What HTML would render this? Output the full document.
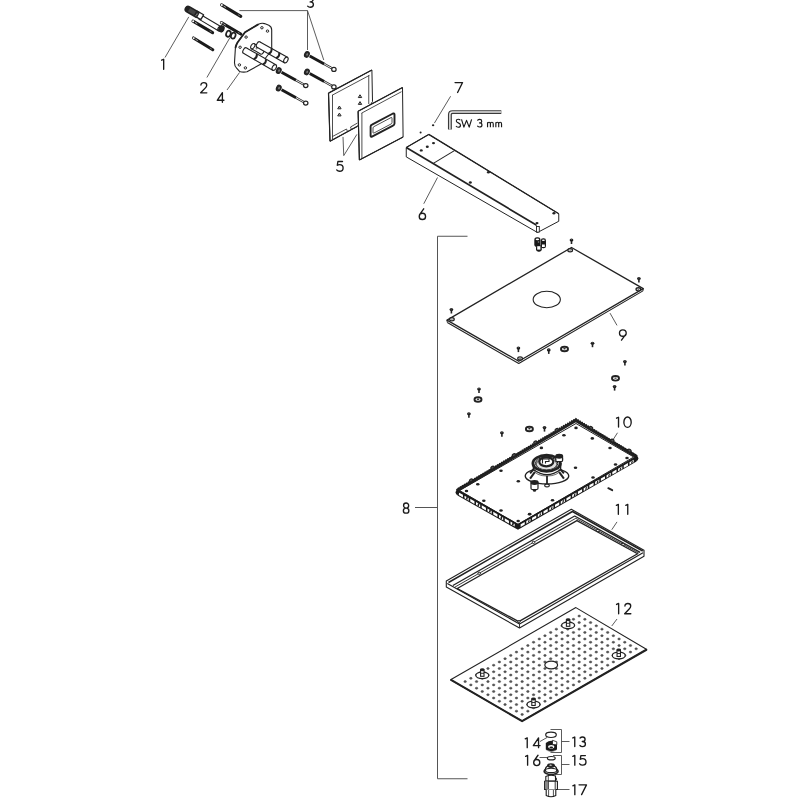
<!DOCTYPE html>
<html><head><meta charset="utf-8"><style>
html,body{margin:0;padding:0;background:#fff;width:800px;height:800px;overflow:hidden}
svg{display:block}
text{font-family:"Liberation Sans",sans-serif}
</style></head><body>
<svg width="800" height="800" viewBox="0 0 800 800">
<rect width="800" height="800" fill="#fff"/>
<path d="M0.65,1.6 L2.65,0.65 V10.55" transform="translate(161.00 58.60) scale(1.0089)" fill="none" stroke="#1a1a1a" stroke-width="1.338" stroke-linecap="round" stroke-linejoin="round"/>
<path d="M0.9,3.1 C0.9,1.5 2.2,0.65 3.7,0.65 C5.3,0.65 6.5,1.7 6.5,3.2 C6.5,4.3 5.9,5.1 5,6 L0.65,10.55 H6.6" transform="translate(200.00 81.90) scale(1.0357)" fill="none" stroke="#1a1a1a" stroke-width="1.303" stroke-linecap="round" stroke-linejoin="round"/>
<path d="M0.8,1.7 C1.5,0.95 2.4,0.65 3.4,0.65 C4.9,0.65 6.0,1.6 6.0,2.95 C6.0,4.3 4.9,5.25 3.1,5.25 C5.1,5.25 6.35,6.35 6.35,7.9 C6.35,9.55 5.0,10.55 3.3,10.55 C2.2,10.55 1.3,10.15 0.65,9.45" transform="translate(307.00 -3.40) scale(1.0089)" fill="none" stroke="#1a1a1a" stroke-width="1.338" stroke-linecap="round" stroke-linejoin="round"/>
<path d="M5.9,10.55 V0.65 L0.65,8.45 H7.45" transform="translate(216.60 92.00) scale(0.9821)" fill="none" stroke="#1a1a1a" stroke-width="1.375" stroke-linecap="round" stroke-linejoin="round"/>
<path d="M6.5,0.8 H1.9 L1.3,4.55 C2.0,4.1 2.8,3.9 3.6,3.9 C5.6,3.9 7.1,5.3 7.1,7.25 C7.1,9.25 5.6,10.55 3.6,10.55 C2.4,10.55 1.3,10.0 0.65,9.2" transform="translate(336.00 160.70) scale(1.0000)" fill="none" stroke="#1a1a1a" stroke-width="1.350" stroke-linecap="round" stroke-linejoin="round"/>
<path d="M5.4,0.65 L1.45,6.2 M4.15,4.95 A3.05,3.05 0 1 1 4.15,11.05 A3.05,3.05 0 1 1 4.15,4.95 Z" transform="translate(418.10 208.10) scale(1.0357)" fill="none" stroke="#1a1a1a" stroke-width="1.303" stroke-linecap="round" stroke-linejoin="round"/>
<path d="M0.65,0.65 H8.15 L3.2,10.55" transform="translate(454.40 81.90) scale(1.0000)" fill="none" stroke="#1a1a1a" stroke-width="1.350" stroke-linecap="round" stroke-linejoin="round"/>
<line x1="188.75" y1="16.9" x2="165" y2="57.5" stroke="#4a4a4a" stroke-width="0.9" stroke-linecap="butt"/>
<line x1="230" y1="37.5" x2="206.9" y2="77.5" stroke="#4a4a4a" stroke-width="0.9" stroke-linecap="butt"/>
<polyline points="239.4,10.6 307.5,10.6 307.5,50" fill="none" stroke="#4a4a4a" stroke-width="0.9" stroke-linejoin="round" />
<line x1="307.5" y1="10.6" x2="323.75" y2="60" stroke="#4a4a4a" stroke-width="0.9" stroke-linecap="butt"/>
<line x1="239.5" y1="72.5" x2="227" y2="90" stroke="#4a4a4a" stroke-width="0.9" stroke-linecap="butt"/>
<polyline points="343,136.9 343.75,155.6 356.9,134.4" fill="none" stroke="#4a4a4a" stroke-width="0.9" stroke-linejoin="round" />
<line x1="423.75" y1="203.75" x2="437.5" y2="177.5" stroke="#4a4a4a" stroke-width="0.9" stroke-linecap="butt"/>
<line x1="450.6" y1="96.25" x2="434.4" y2="123.1" stroke="#4a4a4a" stroke-width="0.9" stroke-linecap="butt"/>
<path d="M460.3,120.3 C459.8,119.5 459.0,119.2 458.2,119.2 C457.0,119.2 456.3,119.9 456.3,120.9 C456.3,123.2 460.5,122.6 460.5,125.2 C460.5,126.5 459.5,127.2 458.2,127.2 C457.2,127.2 456.5,126.8 456.0,126.0" fill="none" stroke="#1a1a1a" stroke-width="1.15" stroke-linejoin="round"/>
<path d="M461.5,119.3 L463.9,127.1 L466.55,120.4 L469.2,127.1 L471.6,119.3" fill="none" stroke="#1a1a1a" stroke-width="1.15" stroke-linejoin="round"/>
<path d="M0.8,1.7 C1.5,0.95 2.4,0.65 3.4,0.65 C4.9,0.65 6.0,1.6 6.0,2.95 C6.0,4.3 4.9,5.25 3.1,5.25 C5.1,5.25 6.35,6.35 6.35,7.9 C6.35,9.55 5.0,10.55 3.3,10.55 C2.2,10.55 1.3,10.15 0.65,9.45" transform="translate(477.10 118.90) scale(0.7679)" fill="none" stroke="#1a1a1a" stroke-width="1.498" stroke-linecap="round" stroke-linejoin="round"/>
<path d="M487.55,127.3 V122.2 M487.55,123.9 C487.55,122.8 488.3,122.2 489.05,122.2 C489.9,122.2 490.4,122.8 490.4,123.9 V127.3 M490.4,123.9 C490.4,122.8 491.15,122.2 491.9,122.2 C492.75,122.2 493.25,122.8 493.25,123.9 V127.3" fill="none" stroke="#1a1a1a" stroke-width="1.15" stroke-linejoin="round"/>
<path d="M495.85,127.3 V122.2 M495.85,123.9 C495.85,122.8 496.6,122.2 497.35,122.2 C498.2,122.2 498.7,122.8 498.7,123.9 V127.3 M498.7,123.9 C498.7,122.8 499.45,122.2 500.2,122.2 C501.05,122.2 501.55,122.8 501.55,123.9 V127.3" fill="none" stroke="#1a1a1a" stroke-width="1.15" stroke-linejoin="round"/>
<polygon points="328.5,93.1 371.9,70 372.5,101.5 357.5,126.25 330,141.25" fill="#fff" stroke="#222" stroke-width="1" stroke-linejoin="round" />
<line x1="328.5" y1="93.1" x2="371.9" y2="70" stroke="#222" stroke-width="1.2" stroke-linecap="butt"/>
<line x1="328.5" y1="93.1" x2="330" y2="141.25" stroke="#222" stroke-width="1.2" stroke-linecap="butt"/>
<line x1="332.5" y1="95" x2="332.5" y2="139" stroke="#222" stroke-width="0.8" stroke-linecap="butt"/>
<line x1="332" y1="95.3" x2="369.5" y2="75.3" stroke="#222" stroke-width="0.8" stroke-linecap="butt"/>
<line x1="368.75" y1="75.3" x2="368.75" y2="104" stroke="#222" stroke-width="0.8" stroke-linecap="butt"/>
<line x1="330" y1="141.25" x2="357.5" y2="126.25" stroke="#222" stroke-width="1.2" stroke-linecap="butt"/>
<line x1="332.5" y1="136.5" x2="346.5" y2="129" stroke="#222" stroke-width="0.8" stroke-linecap="butt"/>
<line x1="346.5" y1="129" x2="347.5" y2="131.5" stroke="#222" stroke-width="0.8" stroke-linecap="butt"/>
<line x1="350.5" y1="127" x2="357.5" y2="123" stroke="#222" stroke-width="0.8" stroke-linecap="butt"/>
<line x1="350.5" y1="127" x2="351.5" y2="129.5" stroke="#222" stroke-width="0.8" stroke-linecap="butt"/>
<path d="M337.7,108.8 L339.4,106 L341.1,108.8 Z" fill="none" stroke="#222" stroke-width="1.0" stroke-linejoin="round"/>
<ellipse cx="339.4" cy="107.9" rx="0.6" ry="0.5" fill="#444"/>
<path d="M337.7,115.9 L339.4,113.1 L341.1,115.9 Z" fill="none" stroke="#222" stroke-width="1.0" stroke-linejoin="round"/>
<ellipse cx="339.4" cy="115" rx="0.6" ry="0.5" fill="#444"/>
<path d="M358.3,97.55 L360,94.75 L361.7,97.55 Z" fill="none" stroke="#222" stroke-width="1.0" stroke-linejoin="round"/>
<ellipse cx="360" cy="96.65" rx="0.6" ry="0.5" fill="#444"/>
<path d="M358.3,104.4 L360,101.6 L361.7,104.4 Z" fill="none" stroke="#222" stroke-width="1.0" stroke-linejoin="round"/>
<ellipse cx="360" cy="103.5" rx="0.6" ry="0.5" fill="#444"/>
<polygon points="358.1,111.25 402.5,87.5 403.1,137 359.4,160" fill="#fff" stroke="#222" stroke-width="1.0" stroke-linejoin="round" />
<line x1="358.1" y1="111.25" x2="402.5" y2="87.5" stroke="#222" stroke-width="1.3" stroke-linecap="butt"/>
<line x1="358.1" y1="111.25" x2="359.4" y2="160" stroke="#222" stroke-width="1.2" stroke-linecap="butt"/>
<line x1="361.9" y1="113" x2="361.9" y2="158.5" stroke="#222" stroke-width="0.8" stroke-linecap="butt"/>
<line x1="361.5" y1="113.2" x2="401.5" y2="91.7" stroke="#222" stroke-width="0.8" stroke-linecap="butt"/>
<line x1="359.4" y1="160" x2="403.1" y2="137" stroke="#222" stroke-width="1.2" stroke-linecap="butt"/>
<path d="M372,124.6 L393,113.5 Q394.5,113 394.5,114.5 L394.5,123.5 Q394.5,125 393,125.6 L372,136.6 Q370.6,137.2 370.6,135.8 L370.6,126.5 Q370.6,125.2 372,124.6 Z" fill="none" stroke="#222" stroke-width="1.9" stroke-linejoin="round"/>
<path d="M374,126.6 L391,117.6 Q392,117.2 392,118.2 L392,122.6 Q392,123.6 391,124 L374,133 Q373,133.4 373,132.4 L373,128 Q373,127 374,126.6 Z" fill="#fff" stroke="#222" stroke-width="0.8" stroke-linejoin="round"/>
<ellipse cx="306.9" cy="54.4" rx="2.2" ry="2.9" fill="#2a2a2a" stroke="#222" stroke-width="1.2" transform="rotate(25 306.9 54.4)"/>
<ellipse cx="307.2" cy="54.4" rx="0.9" ry="1.3" fill="#777" transform="rotate(25 307.2 54.4)"/>
<line x1="309.7" y1="56" x2="324.22" y2="64.04" stroke="#1a1a1a" stroke-width="2.9" stroke-linecap="butt"/>
<line x1="324.22" y1="64.04" x2="332.3" y2="68.5" stroke="#222" stroke-width="2.3" stroke-linecap="butt"/>
<line x1="324.22" y1="64.04" x2="332.3" y2="68.5" stroke="#fff" stroke-width="0.9" stroke-linecap="butt"/>
<ellipse cx="333.9" cy="69.4" rx="2.2" ry="2" fill="#fff" stroke="#222" stroke-width="1.2"/>
<ellipse cx="306.9" cy="71.9" rx="2.2" ry="2.9" fill="#2a2a2a" stroke="#222" stroke-width="1.2" transform="rotate(25 306.9 71.9)"/>
<ellipse cx="307.2" cy="71.9" rx="0.9" ry="1.3" fill="#777" transform="rotate(25 307.2 71.9)"/>
<line x1="309.7" y1="73.5" x2="324.22" y2="81.54" stroke="#1a1a1a" stroke-width="2.9" stroke-linecap="butt"/>
<line x1="324.22" y1="81.54" x2="332.3" y2="86" stroke="#222" stroke-width="2.3" stroke-linecap="butt"/>
<line x1="324.22" y1="81.54" x2="332.3" y2="86" stroke="#fff" stroke-width="0.9" stroke-linecap="butt"/>
<ellipse cx="333.9" cy="86.9" rx="2.2" ry="2" fill="#fff" stroke="#222" stroke-width="1.2"/>
<ellipse cx="278.75" cy="70.6" rx="2.2" ry="2.9" fill="#2a2a2a" stroke="#222" stroke-width="1.2" transform="rotate(25 278.75 70.6)"/>
<ellipse cx="279.05" cy="70.6" rx="0.9" ry="1.3" fill="#777" transform="rotate(25 279.05 70.6)"/>
<line x1="281.55" y1="72.2" x2="296.07" y2="80.24" stroke="#1a1a1a" stroke-width="2.9" stroke-linecap="butt"/>
<line x1="296.07" y1="80.24" x2="304.15" y2="84.7" stroke="#222" stroke-width="2.3" stroke-linecap="butt"/>
<line x1="296.07" y1="80.24" x2="304.15" y2="84.7" stroke="#fff" stroke-width="0.9" stroke-linecap="butt"/>
<ellipse cx="305.75" cy="85.6" rx="2.2" ry="2" fill="#fff" stroke="#222" stroke-width="1.2"/>
<ellipse cx="278.75" cy="88.1" rx="2.2" ry="2.9" fill="#2a2a2a" stroke="#222" stroke-width="1.2" transform="rotate(25 278.75 88.1)"/>
<ellipse cx="279.05" cy="88.1" rx="0.9" ry="1.3" fill="#777" transform="rotate(25 279.05 88.1)"/>
<line x1="281.55" y1="89.7" x2="296.07" y2="97.74" stroke="#1a1a1a" stroke-width="2.9" stroke-linecap="butt"/>
<line x1="296.07" y1="97.74" x2="304.15" y2="102.2" stroke="#222" stroke-width="2.3" stroke-linecap="butt"/>
<line x1="296.07" y1="97.74" x2="304.15" y2="102.2" stroke="#fff" stroke-width="0.9" stroke-linecap="butt"/>
<ellipse cx="305.75" cy="103.1" rx="2.2" ry="2" fill="#fff" stroke="#222" stroke-width="1.2"/>
<path d="M245,32.2 L258.5,24.2 Q261.5,22.8 264.5,23.6 L268.8,25.2 Q271.7,26.6 271.7,30 L271.7,50 L261,64 L247,71.8 Q243,72.6 239.5,71.4 L236.6,68.2 Q234.4,66 234.5,62.5 L235.4,48 Q236,45 237.5,42.5 Z" fill="#fff" stroke="#222" stroke-width="1.1" stroke-linejoin="round"/>
<path d="M258.5,24.2 L245,32.2 L237.5,42.5 Q236,45 235.4,48" fill="none" stroke="#222" stroke-width="1.8" stroke-linejoin="round"/>
<ellipse cx="261.9" cy="27.75" rx="1.25" ry="1.15" fill="#fff" stroke="#222" stroke-width="1.0"/>
<ellipse cx="267.5" cy="31.1" rx="1.25" ry="1.15" fill="#fff" stroke="#222" stroke-width="1.0"/>
<ellipse cx="246.1" cy="37.1" rx="1.25" ry="1.15" fill="#fff" stroke="#222" stroke-width="1.0"/>
<ellipse cx="240.1" cy="47.25" rx="1.25" ry="1.15" fill="#fff" stroke="#222" stroke-width="1.0"/>
<ellipse cx="239.4" cy="64.9" rx="1.25" ry="1.15" fill="#fff" stroke="#222" stroke-width="1.0"/>
<ellipse cx="245.4" cy="67.9" rx="1.25" ry="1.15" fill="#fff" stroke="#222" stroke-width="1.0"/>
<ellipse cx="262" cy="51.5" rx="1.74" ry="2.9" fill="#fff" stroke="#222" stroke-width="1.1" transform="rotate(-150.1 262 51.5)"/>
<polyline points="263.45,48.99 254.25,43.69 251.35,48.71 260.55,54.01" fill="#fff" stroke="#222" stroke-width="1.1" stroke-linejoin="round" />
<ellipse cx="252.8" cy="46.2" rx="1.74" ry="2.9" fill="#fff" stroke="#222" stroke-width="1.1" transform="rotate(-150.1 252.8 46.2)"/>
<ellipse cx="256.8" cy="48" rx="1" ry="1.6" fill="#888" transform="rotate(30 256.8 48)"/>
<ellipse cx="258.5" cy="44.6" rx="1.86" ry="3.1" fill="#fff" stroke="#222" stroke-width="1.1" transform="rotate(29.3 258.5 44.6)"/>
<polyline points="256.98,47.3 284.38,62.7 287.42,57.3 260.02,41.9" fill="#fff" stroke="#222" stroke-width="1.1" stroke-linejoin="round" />
<ellipse cx="285.9" cy="60" rx="1.86" ry="3.1" fill="#fff" stroke="#222" stroke-width="1.1" transform="rotate(29.3 285.9 60)"/>
<path d="M268.49,53.77 Q272.17,52.28 271.53,48.37" fill="none" stroke="#222" stroke-width="2.0" stroke-linejoin="round"/>
<path d="M276.16,58.08 Q279.84,56.6 279.2,52.68" fill="none" stroke="#222" stroke-width="2.0" stroke-linejoin="round"/>
<ellipse cx="245" cy="50.6" rx="1.86" ry="3.1" fill="#fff" stroke="#222" stroke-width="1.1" transform="rotate(30.0 245 50.6)"/>
<polyline points="243.45,53.28 272.7,70.18 275.8,64.82 246.55,47.92" fill="#fff" stroke="#222" stroke-width="1.1" stroke-linejoin="round" />
<ellipse cx="274.25" cy="67.5" rx="1.86" ry="3.1" fill="#fff" stroke="#222" stroke-width="1.1" transform="rotate(30.0 274.25 67.5)"/>
<path d="M253.69,59.2 Q257.38,57.76 256.79,53.83" fill="none" stroke="#222" stroke-width="2.0" stroke-linejoin="round"/>
<path d="M262.75,64.44 Q266.45,62.99 265.86,59.07" fill="none" stroke="#222" stroke-width="2.0" stroke-linejoin="round"/>
<ellipse cx="200.5" cy="17.3" rx="1.44" ry="2.4" fill="#fff" stroke="#222" stroke-width="1.1" transform="rotate(30.7 200.5 17.3)"/>
<polyline points="199.27,19.36 218.27,30.66 220.73,26.54 201.73,15.24" fill="#fff" stroke="#222" stroke-width="1.1" stroke-linejoin="round" />
<ellipse cx="219.5" cy="28.6" rx="1.44" ry="2.4" fill="#fff" stroke="#222" stroke-width="1.1" transform="rotate(30.7 219.5 28.6)"/>
<line x1="188.2" y1="9.4" x2="196.8" y2="14.4" stroke="#222" stroke-width="7.4" stroke-linecap="round"/>
<line x1="189" y1="9.8" x2="195" y2="13.3" stroke="#444" stroke-width="4.2" stroke-linecap="butt"/>
<polygon points="197.5,11.2 203.6,14.8 200.8,19.6 194.7,16" fill="#fff" stroke="#222" stroke-width="1.3" stroke-linejoin="round" />
<line x1="199.3" y1="12.3" x2="196.6" y2="17.1" stroke="#222" stroke-width="1.3" stroke-linecap="butt"/>
<line x1="196.5" y1="14.5" x2="197.2" y2="14.9" stroke="#333" stroke-width="6.2" stroke-linecap="butt"/>
<ellipse cx="221.5" cy="28.9" rx="3" ry="3.5" fill="#1a1a1a" transform="rotate(30 221.5 28.9)"/>
<line x1="219.5" y1="27.7" x2="223" y2="29.8" stroke="#222" stroke-width="6.5" stroke-linecap="butt"/>
<ellipse cx="228.4" cy="33.75" rx="2.2" ry="3.1" fill="none" stroke="#222" stroke-width="1.7" transform="rotate(20 228.4 33.75)"/>
<ellipse cx="233.25" cy="35.6" rx="2.2" ry="3.1" fill="none" stroke="#222" stroke-width="1.7" transform="rotate(20 233.25 35.6)"/>
<line x1="221.6" y1="4.9" x2="240.8" y2="16.3" stroke="#1a1a1a" stroke-width="3.1" stroke-linecap="round"/>
<line x1="223.52" y1="6.04" x2="225.82" y2="7.41" stroke="#bbb" stroke-width="0.9" stroke-linecap="butt"/>
<line x1="237.92" y1="14.59" x2="239.84" y2="15.73" stroke="#999" stroke-width="0.7" stroke-linecap="butt"/>
<ellipse cx="221.8" cy="5" rx="1.05" ry="0.95" fill="#fff"/>
<line x1="193" y1="21.2" x2="212.6" y2="32.6" stroke="#1a1a1a" stroke-width="3.1" stroke-linecap="round"/>
<line x1="194.96" y1="22.34" x2="197.31" y2="23.71" stroke="#bbb" stroke-width="0.9" stroke-linecap="butt"/>
<line x1="209.66" y1="30.89" x2="211.62" y2="32.03" stroke="#999" stroke-width="0.7" stroke-linecap="butt"/>
<ellipse cx="193.2" cy="21.3" rx="1.05" ry="0.95" fill="#fff"/>
<line x1="221.4" y1="22.6" x2="240.8" y2="34" stroke="#1a1a1a" stroke-width="3.1" stroke-linecap="round"/>
<line x1="223.34" y1="23.74" x2="225.67" y2="25.11" stroke="#bbb" stroke-width="0.9" stroke-linecap="butt"/>
<line x1="237.89" y1="32.29" x2="239.83" y2="33.43" stroke="#999" stroke-width="0.7" stroke-linecap="butt"/>
<ellipse cx="221.6" cy="22.7" rx="1.05" ry="0.95" fill="#fff"/>
<line x1="193.5" y1="38" x2="212.8" y2="49.8" stroke="#1a1a1a" stroke-width="3.1" stroke-linecap="round"/>
<line x1="195.43" y1="39.18" x2="197.75" y2="40.6" stroke="#bbb" stroke-width="0.9" stroke-linecap="butt"/>
<line x1="209.91" y1="48.03" x2="211.84" y2="49.21" stroke="#999" stroke-width="0.7" stroke-linecap="butt"/>
<ellipse cx="193.7" cy="38.1" rx="1.05" ry="0.95" fill="#fff"/>
<polygon points="406.25,147.5 428.75,134.4 558.75,213.75 536.25,225" fill="#fff" stroke="#222" stroke-width="1" stroke-linejoin="round" />
<polyline points="406.25,147.5 406.25,156.9 537.5,232.5 558.75,221.25 558.75,213.75" fill="#fff" stroke="#222" stroke-width="1" stroke-linejoin="round" />
<line x1="406.25" y1="147.5" x2="536.25" y2="225" stroke="#222" stroke-width="1.7" stroke-linecap="butt"/>
<line x1="536.25" y1="225" x2="537.5" y2="232.5" stroke="#222" stroke-width="0.8" stroke-linecap="butt"/>
<line x1="428.75" y1="134.4" x2="558.75" y2="213.75" stroke="#222" stroke-width="1.4" stroke-linecap="butt"/>
<line x1="406.25" y1="147.5" x2="428.75" y2="134.4" stroke="#222" stroke-width="1.1" stroke-linecap="butt"/>
<line x1="433.75" y1="163.1" x2="454.4" y2="150.6" stroke="#222" stroke-width="1.1" stroke-linecap="butt"/>
<ellipse cx="421.25" cy="150.4" rx="1.5" ry="1.2" fill="#222"/>
<ellipse cx="427.3" cy="146.8" rx="1.5" ry="1.2" fill="#222"/>
<ellipse cx="433.5" cy="143.1" rx="1.5" ry="1.2" fill="#222"/>
<ellipse cx="488.4" cy="172.3" rx="1.5" ry="1.2" fill="#222"/>
<ellipse cx="470.3" cy="182.5" rx="1.5" ry="1.2" fill="#222"/>
<ellipse cx="553.9" cy="213.2" rx="1.5" ry="1.2" fill="#222"/>
<ellipse cx="537" cy="223.1" rx="1.5" ry="1.2" fill="#222"/>
<ellipse cx="433.1" cy="125.25" rx="1.2" ry="1.1" fill="#222"/>
<ellipse cx="420.6" cy="132.5" rx="1" ry="1.1" fill="#222"/>
<rect x="534.3" y="237.3" width="6.2" height="9.5" rx="2.6" fill="#1a1a1a"/>
<rect x="540.8" y="238.2" width="5.2" height="10" rx="2.3" fill="#1a1a1a"/>
<rect x="536" y="245" width="5.8" height="6.7" rx="2.4" fill="#1a1a1a"/>
<ellipse cx="537.4" cy="239.3" rx="1.7" ry="0.9" fill="#fff"/>
<ellipse cx="543.4" cy="240.2" rx="1.5" ry="0.8" fill="#fff"/>
<rect x="537.2" y="246.2" width="3.2" height="3.4" fill="#fff"/>
<rect x="542" y="244.5" width="2.8" height="2.5" fill="#fff"/>
<ellipse cx="538.5" cy="242" rx="0.8" ry="0.7" fill="#888"/>
<rect x="536.5" y="226.5" width="2.8" height="5.6" fill="#fff" stroke="#222" stroke-width="0.9"/>
<path d="M449.9,129.6 V114.5 Q449.9,112.1 452.5,112.1 H501.3" fill="none" stroke="#3a3a3a" stroke-width="3.9" stroke-linejoin="round"/>
<path d="M449.9,129.4 V114.5 Q449.9,112.1 452.5,112.1 H501.0" fill="none" stroke="#e8e8e8" stroke-width="1.5" stroke-linejoin="round"/>
<polyline points="467.5,236.25 437.5,236.25 437.5,778.75 467.5,778.75" fill="none" stroke="#555" stroke-width="1" stroke-linejoin="round" />
<line x1="415" y1="507.5" x2="437.5" y2="507.5" stroke="#555" stroke-width="1" stroke-linecap="butt"/>
<path d="M3.3,0.75 A2.45,2.5 0 1 1 3.3,5.75 A2.45,2.5 0 1 1 3.3,0.75 Z M3.3,5.7 A2.65,2.45 0 1 1 3.3,10.6 A2.65,2.45 0 1 1 3.3,5.7 Z" transform="translate(402.70 502.20) scale(1.0357)" fill="none" stroke="#1a1a1a" stroke-width="1.303" stroke-linecap="round" stroke-linejoin="round"/>
<path d="M3.9,0.65 A3.25,3.1 0 1 1 3.9,6.85 A3.25,3.1 0 1 1 3.9,0.65 Z M6.7,5.0 L2.6,10.55" transform="translate(618.80 329.20) scale(1.0357)" fill="none" stroke="#1a1a1a" stroke-width="1.303" stroke-linecap="round" stroke-linejoin="round"/>
<path d="M0.65,1.6 L2.65,0.65 V10.55" transform="translate(615.90 416.60) scale(0.9911)" fill="none" stroke="#1a1a1a" stroke-width="1.362" stroke-linecap="round" stroke-linejoin="round"/>
<path d="M4.15,0.65 C6.1,0.65 7.65,2.9 7.65,5.6 C7.65,8.3 6.1,10.55 4.15,10.55 C2.2,10.55 0.65,8.3 0.65,5.6 C0.65,2.9 2.2,0.65 4.15,0.65 Z" transform="translate(623.20 416.30) scale(1.0446)" fill="none" stroke="#1a1a1a" stroke-width="1.292" stroke-linecap="round" stroke-linejoin="round"/>
<path d="M0.65,1.6 L2.65,0.65 V10.55" transform="translate(615.70 503.70) scale(1.0000)" fill="none" stroke="#1a1a1a" stroke-width="1.350" stroke-linecap="round" stroke-linejoin="round"/>
<path d="M0.65,1.6 L2.65,0.65 V10.55" transform="translate(625.10 503.70) scale(1.0000)" fill="none" stroke="#1a1a1a" stroke-width="1.350" stroke-linecap="round" stroke-linejoin="round"/>
<path d="M0.65,1.6 L2.65,0.65 V10.55" transform="translate(615.90 602.80) scale(1.0357)" fill="none" stroke="#1a1a1a" stroke-width="1.303" stroke-linecap="round" stroke-linejoin="round"/>
<path d="M0.9,3.1 C0.9,1.5 2.2,0.65 3.7,0.65 C5.3,0.65 6.5,1.7 6.5,3.2 C6.5,4.3 5.9,5.1 5,6 L0.65,10.55 H6.6" transform="translate(624.00 602.80) scale(1.0357)" fill="none" stroke="#1a1a1a" stroke-width="1.303" stroke-linecap="round" stroke-linejoin="round"/>
<path d="M0.65,1.6 L2.65,0.65 V10.55" transform="translate(572.20 736.40) scale(0.9643)" fill="none" stroke="#1a1a1a" stroke-width="1.400" stroke-linecap="round" stroke-linejoin="round"/>
<path d="M0.8,1.7 C1.5,0.95 2.4,0.65 3.4,0.65 C4.9,0.65 6.0,1.6 6.0,2.95 C6.0,4.3 4.9,5.25 3.1,5.25 C5.1,5.25 6.35,6.35 6.35,7.9 C6.35,9.55 5.0,10.55 3.3,10.55 C2.2,10.55 1.3,10.15 0.65,9.45" transform="translate(579.30 736.40) scale(0.9643)" fill="none" stroke="#1a1a1a" stroke-width="1.400" stroke-linecap="round" stroke-linejoin="round"/>
<path d="M0.65,1.6 L2.65,0.65 V10.55" transform="translate(524.60 737.20) scale(0.9911)" fill="none" stroke="#1a1a1a" stroke-width="1.362" stroke-linecap="round" stroke-linejoin="round"/>
<path d="M5.9,10.55 V0.65 L0.65,8.45 H7.45" transform="translate(532.70 737.20) scale(0.9911)" fill="none" stroke="#1a1a1a" stroke-width="1.362" stroke-linecap="round" stroke-linejoin="round"/>
<path d="M0.65,1.6 L2.65,0.65 V10.55" transform="translate(572.20 754.80) scale(0.9821)" fill="none" stroke="#1a1a1a" stroke-width="1.375" stroke-linecap="round" stroke-linejoin="round"/>
<path d="M6.5,0.8 H1.9 L1.3,4.55 C2.0,4.1 2.8,3.9 3.6,3.9 C5.6,3.9 7.1,5.3 7.1,7.25 C7.1,9.25 5.6,10.55 3.6,10.55 C2.4,10.55 1.3,10.0 0.65,9.2" transform="translate(579.00 754.80) scale(0.9821)" fill="none" stroke="#1a1a1a" stroke-width="1.375" stroke-linecap="round" stroke-linejoin="round"/>
<path d="M0.65,1.6 L2.65,0.65 V10.55" transform="translate(525.00 754.80) scale(0.9821)" fill="none" stroke="#1a1a1a" stroke-width="1.375" stroke-linecap="round" stroke-linejoin="round"/>
<path d="M5.4,0.65 L1.45,6.2 M4.15,4.95 A3.05,3.05 0 1 1 4.15,11.05 A3.05,3.05 0 1 1 4.15,4.95 Z" transform="translate(532.60 754.60) scale(1.0000)" fill="none" stroke="#1a1a1a" stroke-width="1.350" stroke-linecap="round" stroke-linejoin="round"/>
<path d="M0.65,1.6 L2.65,0.65 V10.55" transform="translate(572.20 784.20) scale(0.9911)" fill="none" stroke="#1a1a1a" stroke-width="1.362" stroke-linecap="round" stroke-linejoin="round"/>
<path d="M0.65,0.65 H8.15 L3.2,10.55" transform="translate(578.40 784.20) scale(0.9911)" fill="none" stroke="#1a1a1a" stroke-width="1.362" stroke-linecap="round" stroke-linejoin="round"/>
<line x1="617" y1="325.4" x2="610" y2="313.1" stroke="#4a4a4a" stroke-width="0.9" stroke-linecap="butt"/>
<line x1="617.5" y1="432.75" x2="611.8" y2="441.7" stroke="#4a4a4a" stroke-width="0.9" stroke-linecap="butt"/>
<line x1="617" y1="521.9" x2="611.75" y2="529.75" stroke="#4a4a4a" stroke-width="0.9" stroke-linecap="butt"/>
<line x1="617" y1="619" x2="611.75" y2="626" stroke="#4a4a4a" stroke-width="0.9" stroke-linecap="butt"/>
<polyline points="550.5,729.5 561.5,729.5 561.5,752.5 550.5,752.5" fill="none" stroke="#4a4a4a" stroke-width="0.9" stroke-linejoin="round" />
<line x1="561.5" y1="741.5" x2="569.5" y2="741.5" stroke="#4a4a4a" stroke-width="0.9" stroke-linecap="butt"/>
<polyline points="553,755.5 561.5,755.5 561.5,774.5 555,774.5" fill="none" stroke="#4a4a4a" stroke-width="0.9" stroke-linejoin="round" />
<line x1="561.5" y1="764.5" x2="569.5" y2="764.5" stroke="#4a4a4a" stroke-width="0.9" stroke-linecap="butt"/>
<line x1="540" y1="741.5" x2="547" y2="737.5" stroke="#4a4a4a" stroke-width="0.9" stroke-linecap="butt"/>
<line x1="539.5" y1="757.5" x2="547.5" y2="757.5" stroke="#4a4a4a" stroke-width="0.9" stroke-linecap="butt"/>
<line x1="558" y1="789.5" x2="569.5" y2="789.5" stroke="#4a4a4a" stroke-width="0.9" stroke-linecap="butt"/>
<polygon points="571.5,247.5 643.25,288.6 518.75,361.25 447,320.1" fill="#fff" stroke="#222" stroke-width="1.3" stroke-linejoin="round" />
<polyline points="447.3,322.4 518.75,363.55 642.95,290.9" fill="none" stroke="#222" stroke-width="1.1" stroke-linejoin="round" />
<line x1="447" y1="320.1" x2="447.3" y2="322.4" stroke="#222" stroke-width="1" stroke-linecap="butt"/>
<line x1="643.25" y1="288.6" x2="642.95" y2="290.9" stroke="#222" stroke-width="1" stroke-linecap="butt"/>
<ellipse cx="546.75" cy="299.5" rx="13.6" ry="8.2" fill="none" stroke="#222" stroke-width="1.1"/>
<ellipse cx="570.17" cy="250.32" rx="2.3" ry="1.6" fill="#fff" stroke="#222" stroke-width="1.3"/>
<ellipse cx="570.17" cy="250.12" rx="0.9" ry="0.5" fill="#444"/>
<ellipse cx="638.34" cy="289.37" rx="2.3" ry="1.6" fill="#fff" stroke="#222" stroke-width="1.3"/>
<ellipse cx="638.34" cy="289.17" rx="0.9" ry="0.5" fill="#444"/>
<ellipse cx="520.06" cy="358.39" rx="2.3" ry="1.6" fill="#fff" stroke="#222" stroke-width="1.3"/>
<ellipse cx="520.06" cy="358.19" rx="0.9" ry="0.5" fill="#444"/>
<ellipse cx="451.9" cy="319.3" rx="2.3" ry="1.6" fill="#fff" stroke="#222" stroke-width="1.3"/>
<ellipse cx="451.9" cy="319.1" rx="0.9" ry="0.5" fill="#444"/>
<ellipse cx="571.5" cy="240" rx="1.85" ry="1.55" fill="#1a1a1a"/>
<line x1="571.5" y1="240.9" x2="571.5" y2="244" stroke="#222" stroke-width="1.6" stroke-linecap="butt"/>
<line x1="570.7" y1="239.5" x2="572.1" y2="239.5" stroke="#888" stroke-width="0.5" stroke-linecap="butt"/>
<ellipse cx="638.9" cy="278.5" rx="1.85" ry="1.55" fill="#1a1a1a"/>
<line x1="638.9" y1="279.4" x2="638.9" y2="282.5" stroke="#222" stroke-width="1.6" stroke-linecap="butt"/>
<line x1="638.1" y1="278" x2="639.5" y2="278" stroke="#888" stroke-width="0.5" stroke-linecap="butt"/>
<ellipse cx="451.4" cy="309.5" rx="1.85" ry="1.55" fill="#1a1a1a"/>
<line x1="451.4" y1="310.4" x2="451.4" y2="313.5" stroke="#222" stroke-width="1.6" stroke-linecap="butt"/>
<line x1="450.6" y1="309" x2="452" y2="309" stroke="#888" stroke-width="0.5" stroke-linecap="butt"/>
<ellipse cx="518.4" cy="348.1" rx="1.85" ry="1.55" fill="#1a1a1a"/>
<line x1="518.4" y1="349" x2="518.4" y2="352.1" stroke="#222" stroke-width="1.6" stroke-linecap="butt"/>
<line x1="517.6" y1="347.6" x2="519" y2="347.6" stroke="#888" stroke-width="0.5" stroke-linecap="butt"/>
<ellipse cx="548.75" cy="349.9" rx="1.85" ry="1.55" fill="#1a1a1a"/>
<line x1="548.75" y1="350.8" x2="548.75" y2="353.9" stroke="#222" stroke-width="1.6" stroke-linecap="butt"/>
<line x1="547.95" y1="349.4" x2="549.35" y2="349.4" stroke="#888" stroke-width="0.5" stroke-linecap="butt"/>
<ellipse cx="592.5" cy="343.2" rx="1.85" ry="1.55" fill="#1a1a1a"/>
<line x1="592.5" y1="344.1" x2="592.5" y2="347.2" stroke="#222" stroke-width="1.6" stroke-linecap="butt"/>
<line x1="591.7" y1="342.7" x2="593.1" y2="342.7" stroke="#888" stroke-width="0.5" stroke-linecap="butt"/>
<ellipse cx="624.9" cy="361.6" rx="1.85" ry="1.55" fill="#1a1a1a"/>
<line x1="624.9" y1="362.5" x2="624.9" y2="365.6" stroke="#222" stroke-width="1.6" stroke-linecap="butt"/>
<line x1="624.1" y1="361.1" x2="625.5" y2="361.1" stroke="#888" stroke-width="0.5" stroke-linecap="butt"/>
<ellipse cx="614.6" cy="386.6" rx="1.85" ry="1.55" fill="#1a1a1a"/>
<line x1="614.6" y1="387.5" x2="614.6" y2="390.6" stroke="#222" stroke-width="1.6" stroke-linecap="butt"/>
<line x1="613.8" y1="386.1" x2="615.2" y2="386.1" stroke="#888" stroke-width="0.5" stroke-linecap="butt"/>
<ellipse cx="479" cy="389" rx="1.85" ry="1.55" fill="#1a1a1a"/>
<line x1="479" y1="389.9" x2="479" y2="393" stroke="#222" stroke-width="1.6" stroke-linecap="butt"/>
<line x1="478.2" y1="388.5" x2="479.6" y2="388.5" stroke="#888" stroke-width="0.5" stroke-linecap="butt"/>
<ellipse cx="468.9" cy="413.8" rx="1.85" ry="1.55" fill="#1a1a1a"/>
<line x1="468.9" y1="414.7" x2="468.9" y2="417.8" stroke="#222" stroke-width="1.6" stroke-linecap="butt"/>
<line x1="468.1" y1="413.3" x2="469.5" y2="413.3" stroke="#888" stroke-width="0.5" stroke-linecap="butt"/>
<ellipse cx="501.9" cy="432.8" rx="1.85" ry="1.55" fill="#1a1a1a"/>
<line x1="501.9" y1="433.7" x2="501.9" y2="436.8" stroke="#222" stroke-width="1.6" stroke-linecap="butt"/>
<line x1="501.1" y1="432.3" x2="502.5" y2="432.3" stroke="#888" stroke-width="0.5" stroke-linecap="butt"/>
<ellipse cx="544.5" cy="427.6" rx="1.85" ry="1.55" fill="#1a1a1a"/>
<line x1="544.5" y1="428.5" x2="544.5" y2="431.6" stroke="#222" stroke-width="1.6" stroke-linecap="butt"/>
<line x1="543.7" y1="427.1" x2="545.1" y2="427.1" stroke="#888" stroke-width="0.5" stroke-linecap="butt"/>
<ellipse cx="564.5" cy="349" rx="3.5" ry="2.3" fill="#fff" stroke="#222" stroke-width="1.9"/>
<ellipse cx="564.5" cy="348.8" rx="1.3" ry="0.7" fill="#222"/>
<ellipse cx="615.5" cy="378.3" rx="3.5" ry="2.3" fill="#fff" stroke="#222" stroke-width="1.9"/>
<ellipse cx="615.5" cy="378.1" rx="1.3" ry="0.7" fill="#222"/>
<ellipse cx="478" cy="399.5" rx="3.5" ry="2.3" fill="#fff" stroke="#222" stroke-width="1.9"/>
<ellipse cx="478" cy="399.3" rx="1.3" ry="0.7" fill="#222"/>
<ellipse cx="529.4" cy="429" rx="3.5" ry="2.3" fill="#fff" stroke="#222" stroke-width="1.9"/>
<ellipse cx="529.4" cy="428.8" rx="1.3" ry="0.7" fill="#222"/>
<polygon points="459.5,490.5 576,423.5 633.75,457 518,524.5" fill="#fff" stroke="#222" stroke-width="1" stroke-linejoin="round" />
<polygon points="457.3,489.3 518,523.8 636.35,456 636.55,461.6 518,529.8 457.5,495.5" fill="#1a1a1a"/>
<polygon points="458.75,492.39 462.93,494.75 462.93,497.45 458.75,495.09" fill="#fff"/>
<polygon points="464.49,495.63 468.68,497.99 468.68,500.69 464.49,498.33" fill="#fff"/>
<polygon points="465.89,499.12 466.59,496.42 467.98,497.2 467.28,499.9" fill="#1a1a1a"/>
<polygon points="470.24,498.87 474.42,501.23 474.42,503.93 470.24,501.57" fill="#fff"/>
<polygon points="475.99,502.11 480.17,504.47 480.17,507.17 475.99,504.81" fill="#fff"/>
<polygon points="477.39,505.6 478.09,502.9 479.48,503.69 478.78,506.39" fill="#1a1a1a"/>
<polygon points="481.74,505.36 485.92,507.71 485.92,510.41 481.74,508.06" fill="#fff"/>
<polygon points="487.49,508.6 491.67,510.95 491.67,513.65 487.49,511.3" fill="#fff"/>
<polygon points="488.88,512.08 489.58,509.38 490.98,510.17 490.28,512.87" fill="#1a1a1a"/>
<polygon points="493.24,511.84 497.42,514.2 497.42,516.9 493.24,514.54" fill="#fff"/>
<polygon points="498.99,515.08 503.17,517.44 503.17,520.14 498.99,517.78" fill="#fff"/>
<polygon points="500.38,518.57 501.08,515.87 502.48,516.65 501.78,519.35" fill="#1a1a1a"/>
<polygon points="504.74,518.32 508.92,520.68 508.92,523.38 504.74,521.02" fill="#fff"/>
<polygon points="510.49,521.56 514.67,523.92 514.67,526.62 510.49,524.26" fill="#fff"/>
<polygon points="511.88,525.05 512.58,522.35 513.97,523.14 513.27,525.84" fill="#1a1a1a"/>
<polygon points="520.61,524.31 524.77,521.93 524.77,524.53 520.61,526.91" fill="#fff"/>
<polygon points="526.34,521.04 530.51,518.66 530.51,521.26 526.34,523.64" fill="#fff"/>
<polygon points="527.73,522.85 528.43,520.25 529.82,519.45 529.12,522.05" fill="#1a1a1a"/>
<polygon points="532.07,517.77 536.24,515.39 536.24,517.99 532.07,520.37" fill="#fff"/>
<polygon points="537.8,514.5 541.97,512.12 541.97,514.72 537.8,517.1" fill="#fff"/>
<polygon points="539.19,516.3 539.89,513.7 541.28,512.91 540.58,515.51" fill="#1a1a1a"/>
<polygon points="543.53,511.23 547.7,508.85 547.7,511.45 543.53,513.83" fill="#fff"/>
<polygon points="549.26,507.95 553.43,505.57 553.43,508.17 549.26,510.55" fill="#fff"/>
<polygon points="550.65,509.76 551.35,507.16 552.74,506.37 552.04,508.97" fill="#1a1a1a"/>
<polygon points="555,504.68 559.17,502.3 559.17,504.9 555,507.28" fill="#fff"/>
<polygon points="560.73,501.41 564.9,499.03 564.9,501.63 560.73,504.01" fill="#fff"/>
<polygon points="562.12,503.22 562.82,500.62 564.21,499.82 563.51,502.42" fill="#1a1a1a"/>
<polygon points="566.46,498.14 570.63,495.76 570.63,498.36 566.46,500.74" fill="#fff"/>
<polygon points="572.19,494.87 576.36,492.49 576.36,495.09 572.19,497.47" fill="#fff"/>
<polygon points="573.58,496.67 574.28,494.07 575.67,493.28 574.97,495.88" fill="#1a1a1a"/>
<polygon points="577.92,491.59 582.09,489.21 582.09,491.81 577.92,494.19" fill="#fff"/>
<polygon points="583.66,488.32 587.82,485.94 587.82,488.54 583.66,490.92" fill="#fff"/>
<polygon points="585.05,490.13 585.75,487.53 587.14,486.74 586.44,489.34" fill="#1a1a1a"/>
<polygon points="589.39,485.05 593.56,482.67 593.56,485.27 589.39,487.65" fill="#fff"/>
<polygon points="595.12,481.78 599.29,479.4 599.29,482 595.12,484.38" fill="#fff"/>
<polygon points="596.51,483.58 597.21,480.98 598.6,480.19 597.9,482.79" fill="#1a1a1a"/>
<polygon points="600.85,478.51 605.02,476.13 605.02,478.73 600.85,481.11" fill="#fff"/>
<polygon points="606.58,475.23 610.75,472.85 610.75,475.45 606.58,477.83" fill="#fff"/>
<polygon points="607.97,477.04 608.67,474.44 610.06,473.65 609.36,476.25" fill="#1a1a1a"/>
<polygon points="612.32,471.96 616.48,469.58 616.48,472.18 612.32,474.56" fill="#fff"/>
<polygon points="618.05,468.69 622.22,466.31 622.22,468.91 618.05,471.29" fill="#fff"/>
<polygon points="619.44,470.5 620.14,467.9 621.53,467.1 620.83,469.7" fill="#1a1a1a"/>
<polygon points="623.78,465.42 627.95,463.04 627.95,465.64 623.78,468.02" fill="#fff"/>
<polygon points="629.51,462.15 633.68,459.77 633.68,462.37 629.51,464.75" fill="#fff"/>
<polygon points="630.9,463.95 631.6,461.35 632.99,460.56 632.29,463.16" fill="#1a1a1a"/>
<polyline points="456.8,490.6 575.8,420.4 636.8,456.8" fill="none" stroke="#222" stroke-width="3.4" stroke-linejoin="round" />
<polyline points="457.8,488.6 575.8,418.6 635.8,455" fill="none" stroke="#1a1a1a" stroke-width="1.5" stroke-dasharray="1.3 1.1"/>
<ellipse cx="471.08" cy="480.38" rx="1.7" ry="1.3" fill="#555" stroke="#222" stroke-width="1.2" transform="rotate(-30 471.08 480.38)"/>
<ellipse cx="492.5" cy="467.74" rx="1.7" ry="1.3" fill="#555" stroke="#222" stroke-width="1.2" transform="rotate(-30 492.5 467.74)"/>
<ellipse cx="513.92" cy="455.1" rx="1.7" ry="1.3" fill="#555" stroke="#222" stroke-width="1.2" transform="rotate(-30 513.92 455.1)"/>
<ellipse cx="535.34" cy="442.47" rx="1.7" ry="1.3" fill="#555" stroke="#222" stroke-width="1.2" transform="rotate(-30 535.34 442.47)"/>
<ellipse cx="556.76" cy="429.83" rx="1.7" ry="1.3" fill="#555" stroke="#222" stroke-width="1.2" transform="rotate(-30 556.76 429.83)"/>
<ellipse cx="591.05" cy="427.85" rx="1.7" ry="1.3" fill="#555" stroke="#222" stroke-width="1.2" transform="rotate(30 591.05 427.85)"/>
<ellipse cx="612.4" cy="440.52" rx="1.7" ry="1.3" fill="#555" stroke="#222" stroke-width="1.2" transform="rotate(30 612.4 440.52)"/>
<ellipse cx="629.48" cy="450.66" rx="1.7" ry="1.3" fill="#555" stroke="#222" stroke-width="1.2" transform="rotate(30 629.48 450.66)"/>
<ellipse cx="636.3" cy="458.3" rx="2" ry="2.6" fill="#1a1a1a"/>
<ellipse cx="457.4" cy="492.3" rx="1.8" ry="2.6" fill="#1a1a1a"/>
<ellipse cx="576" cy="427.9" rx="1.75" ry="1.3" fill="#222"/>
<ellipse cx="563.9" cy="435.2" rx="1.75" ry="1.3" fill="#222"/>
<ellipse cx="541.4" cy="447.9" rx="1.75" ry="1.3" fill="#222"/>
<ellipse cx="592.3" cy="438.4" rx="1.75" ry="1.3" fill="#222"/>
<ellipse cx="610" cy="448" rx="1.75" ry="1.3" fill="#222"/>
<ellipse cx="627" cy="458" rx="1.75" ry="1.3" fill="#222"/>
<ellipse cx="575.5" cy="467.8" rx="1.75" ry="1.3" fill="#222"/>
<ellipse cx="593" cy="477.5" rx="1.75" ry="1.3" fill="#222"/>
<ellipse cx="615.5" cy="464.5" rx="1.75" ry="1.3" fill="#222"/>
<ellipse cx="552.5" cy="500.2" rx="1.75" ry="1.3" fill="#222"/>
<ellipse cx="529.75" cy="514" rx="1.75" ry="1.3" fill="#222"/>
<ellipse cx="466.5" cy="491" rx="1.75" ry="1.3" fill="#222"/>
<ellipse cx="477.75" cy="484.3" rx="1.75" ry="1.3" fill="#222"/>
<ellipse cx="501" cy="470.8" rx="1.75" ry="1.3" fill="#222"/>
<ellipse cx="518.3" cy="481.3" rx="1.75" ry="1.3" fill="#222"/>
<ellipse cx="483.8" cy="500.8" rx="1.75" ry="1.3" fill="#222"/>
<ellipse cx="501" cy="510.5" rx="1.75" ry="1.3" fill="#222"/>
<ellipse cx="518.2" cy="521" rx="1.75" ry="1.3" fill="#222"/>
<ellipse cx="529.5" cy="514.3" rx="1.75" ry="1.3" fill="#222"/>
<ellipse cx="547" cy="476" rx="21.75" ry="7.9" fill="#fff" stroke="#222" stroke-width="1.4"/>
<line x1="534.78" y1="472.05" x2="530.09" y2="478.57" stroke="#222" stroke-width="2.0" stroke-linecap="butt"/>
<line x1="534.78" y1="467.95" x2="530.09" y2="473.43" stroke="#222" stroke-width="2.0" stroke-linecap="butt"/>
<line x1="539.54" y1="465.09" x2="536.68" y2="469.86" stroke="#222" stroke-width="2.0" stroke-linecap="butt"/>
<line x1="547" y1="464" x2="547" y2="468.5" stroke="#222" stroke-width="2.0" stroke-linecap="butt"/>
<line x1="554.46" y1="465.09" x2="557.32" y2="469.86" stroke="#222" stroke-width="2.0" stroke-linecap="butt"/>
<line x1="559.22" y1="467.95" x2="563.91" y2="473.43" stroke="#222" stroke-width="2.0" stroke-linecap="butt"/>
<line x1="559.22" y1="472.05" x2="563.91" y2="478.57" stroke="#222" stroke-width="2.0" stroke-linecap="butt"/>
<path d="M533,463 L533.5,469.5 Q547,480 560.5,469.5 L561,463" fill="#fff" stroke="#222" stroke-width="1.3"/>
<ellipse cx="547" cy="470.5" rx="12.5" ry="5.5" fill="none" stroke="#222" stroke-width="0.7"/>
<ellipse cx="546.6" cy="463.25" rx="13.7" ry="8" fill="#fff" stroke="#222" stroke-width="2.8"/>
<ellipse cx="546.6" cy="463.4" rx="11.2" ry="6.4" fill="#c8c8c8" stroke="#222" stroke-width="1.0"/>
<ellipse cx="546.6" cy="464.2" rx="10.2" ry="5.6" fill="#e0e0e0" stroke="#222" stroke-width="0.7"/>
<ellipse cx="546.3" cy="461.8" rx="7" ry="4.5" fill="#fff" stroke="#222" stroke-width="2.2"/>
<path d="M542.5,463.5 V459 H549 V461.5 H545.5 V463.5" fill="none" stroke="#222" stroke-width="1.1"/>
<rect x="555.8" y="456.2" width="6.8" height="5.5" rx="1.5" fill="#fff" stroke="#222" stroke-width="1.3"/>
<ellipse cx="559.2" cy="456.2" rx="3.4" ry="1.8" fill="#222" stroke="#222" stroke-width="1.3"/>
<line x1="547" y1="476" x2="547" y2="484.5" stroke="#222" stroke-width="1.8" stroke-linecap="butt"/>
<ellipse cx="547" cy="485.5" rx="2.3" ry="1.4" fill="#fff" stroke="#222" stroke-width="1.1"/>
<rect x="531" y="482.5" width="7" height="7" rx="1.2" fill="#fff" stroke="#222" stroke-width="1.2"/>
<ellipse cx="534.5" cy="482.5" rx="3.5" ry="1.7" fill="#222" stroke="#222" stroke-width="1.5"/>
<ellipse cx="534.5" cy="490.5" rx="1.7" ry="1.2" fill="#222"/>
<line x1="608.3" y1="488.2" x2="612.2" y2="490.2" stroke="#222" stroke-width="1.9" stroke-linecap="round"/>
<polygon points="446.3,581 571.3,509.2 644,550.3 644,556.3 519.5,628 446.3,587" fill="#fff" stroke="#222" stroke-width="1.1" stroke-linejoin="round"/>
<polyline points="447.3,583.5 519.5,624 643,552.8" fill="none" stroke="#222" stroke-width="1.2" stroke-linejoin="round" />
<line x1="519.5" y1="624" x2="519.5" y2="628" stroke="#222" stroke-width="0.9" stroke-linecap="butt"/>
<polygon points="457.25,588.5 576.9,520.6 637.6,553.8 518.75,621.6" fill="none" stroke="#222" stroke-width="1.3" stroke-linejoin="round" />
<polyline points="448.49,582.5 572.42,511.48 642.72,551" fill="none" stroke="#222" stroke-width="1.5" stroke-linejoin="round" />
<polyline points="452.87,585.5 574.66,516.04 640.16,552.4" fill="none" stroke="#222" stroke-width="1.3" stroke-linejoin="round" />
<polyline points="455.06,587 575.78,518.32 638.88,553.1" fill="none" stroke="#222" stroke-width="0.9" stroke-linejoin="round" />
<ellipse cx="479.2" cy="573.26" rx="1.3" ry="1.1" fill="#fff" stroke="#222" stroke-width="1"/>
<ellipse cx="533.53" cy="542.36" rx="1.3" ry="1.1" fill="#fff" stroke="#222" stroke-width="1"/>
<ellipse cx="597.87" cy="530.49" rx="1.3" ry="1.1" fill="#fff" stroke="#222" stroke-width="1"/>
<ellipse cx="623.11" cy="544.4" rx="1.3" ry="1.1" fill="#fff" stroke="#222" stroke-width="1"/>
<ellipse cx="519" cy="621.5" rx="1.3" ry="0.9" fill="#fff" stroke="#222" stroke-width="1"/>
<polygon points="575.9,607.6 646.8,649.5 522.1,721.1 450.6,679.7" fill="#fff" stroke="#222" stroke-width="1.1" stroke-linejoin="round" />
<polyline points="450.6,679.7 522.1,721.1 646.8,649.5" fill="none" stroke="#222" stroke-width="2.1" stroke-linejoin="round" />
<ellipse cx="465.16" cy="681.62" rx="1.3" ry="1" fill="#555" stroke="#444" stroke-width="0.5"/>
<ellipse cx="470.86" cy="678.34" rx="1.3" ry="1" fill="#555" stroke="#444" stroke-width="0.5"/>
<ellipse cx="476.56" cy="675.06" rx="1.3" ry="1" fill="#555" stroke="#444" stroke-width="0.5"/>
<ellipse cx="482.26" cy="671.78" rx="1.3" ry="1" fill="#555" stroke="#444" stroke-width="0.5"/>
<ellipse cx="487.96" cy="668.5" rx="1.3" ry="1" fill="#555" stroke="#444" stroke-width="0.5"/>
<ellipse cx="493.66" cy="665.22" rx="1.3" ry="1" fill="#555" stroke="#444" stroke-width="0.5"/>
<ellipse cx="499.36" cy="661.94" rx="1.3" ry="1" fill="#555" stroke="#444" stroke-width="0.5"/>
<ellipse cx="505.06" cy="658.66" rx="1.3" ry="1" fill="#555" stroke="#444" stroke-width="0.5"/>
<ellipse cx="510.76" cy="655.38" rx="1.3" ry="1" fill="#555" stroke="#444" stroke-width="0.5"/>
<ellipse cx="516.46" cy="652.1" rx="1.3" ry="1" fill="#555" stroke="#444" stroke-width="0.5"/>
<ellipse cx="522.16" cy="648.82" rx="1.3" ry="1" fill="#555" stroke="#444" stroke-width="0.5"/>
<ellipse cx="527.86" cy="645.54" rx="1.3" ry="1" fill="#555" stroke="#444" stroke-width="0.5"/>
<ellipse cx="533.56" cy="642.26" rx="1.3" ry="1" fill="#555" stroke="#444" stroke-width="0.5"/>
<ellipse cx="539.26" cy="638.98" rx="1.3" ry="1" fill="#555" stroke="#444" stroke-width="0.5"/>
<ellipse cx="544.96" cy="635.7" rx="1.3" ry="1" fill="#555" stroke="#444" stroke-width="0.5"/>
<ellipse cx="550.66" cy="632.42" rx="1.3" ry="1" fill="#555" stroke="#444" stroke-width="0.5"/>
<ellipse cx="556.36" cy="629.14" rx="1.3" ry="1" fill="#555" stroke="#444" stroke-width="0.5"/>
<ellipse cx="562.06" cy="625.86" rx="1.3" ry="1" fill="#555" stroke="#444" stroke-width="0.5"/>
<ellipse cx="567.76" cy="622.58" rx="1.3" ry="1" fill="#555" stroke="#444" stroke-width="0.5"/>
<ellipse cx="573.46" cy="619.3" rx="1.3" ry="1" fill="#555" stroke="#444" stroke-width="0.5"/>
<ellipse cx="579.16" cy="616.02" rx="1.3" ry="1" fill="#555" stroke="#444" stroke-width="0.5"/>
<ellipse cx="470.86" cy="684.9" rx="1.3" ry="1" fill="#555" stroke="#444" stroke-width="0.5"/>
<ellipse cx="476.56" cy="681.62" rx="1.3" ry="1" fill="#555" stroke="#444" stroke-width="0.5"/>
<ellipse cx="482.26" cy="678.34" rx="1.3" ry="1" fill="#555" stroke="#444" stroke-width="0.5"/>
<ellipse cx="487.96" cy="675.06" rx="1.3" ry="1" fill="#555" stroke="#444" stroke-width="0.5"/>
<ellipse cx="493.66" cy="671.78" rx="1.3" ry="1" fill="#555" stroke="#444" stroke-width="0.5"/>
<ellipse cx="499.36" cy="668.5" rx="1.3" ry="1" fill="#555" stroke="#444" stroke-width="0.5"/>
<ellipse cx="505.06" cy="665.22" rx="1.3" ry="1" fill="#555" stroke="#444" stroke-width="0.5"/>
<ellipse cx="510.76" cy="661.94" rx="1.3" ry="1" fill="#555" stroke="#444" stroke-width="0.5"/>
<ellipse cx="516.46" cy="658.66" rx="1.3" ry="1" fill="#555" stroke="#444" stroke-width="0.5"/>
<ellipse cx="522.16" cy="655.38" rx="1.3" ry="1" fill="#555" stroke="#444" stroke-width="0.5"/>
<ellipse cx="527.86" cy="652.1" rx="1.3" ry="1" fill="#555" stroke="#444" stroke-width="0.5"/>
<ellipse cx="533.56" cy="648.82" rx="1.3" ry="1" fill="#555" stroke="#444" stroke-width="0.5"/>
<ellipse cx="539.26" cy="645.54" rx="1.3" ry="1" fill="#555" stroke="#444" stroke-width="0.5"/>
<ellipse cx="544.96" cy="642.26" rx="1.3" ry="1" fill="#555" stroke="#444" stroke-width="0.5"/>
<ellipse cx="550.66" cy="638.98" rx="1.3" ry="1" fill="#555" stroke="#444" stroke-width="0.5"/>
<ellipse cx="556.36" cy="635.7" rx="1.3" ry="1" fill="#555" stroke="#444" stroke-width="0.5"/>
<ellipse cx="562.06" cy="632.42" rx="1.3" ry="1" fill="#555" stroke="#444" stroke-width="0.5"/>
<ellipse cx="567.76" cy="629.14" rx="1.3" ry="1" fill="#555" stroke="#444" stroke-width="0.5"/>
<ellipse cx="573.46" cy="625.86" rx="1.3" ry="1" fill="#555" stroke="#444" stroke-width="0.5"/>
<ellipse cx="579.16" cy="622.58" rx="1.3" ry="1" fill="#555" stroke="#444" stroke-width="0.5"/>
<ellipse cx="584.86" cy="619.3" rx="1.3" ry="1" fill="#555" stroke="#444" stroke-width="0.5"/>
<ellipse cx="476.56" cy="688.18" rx="1.3" ry="1" fill="#555" stroke="#444" stroke-width="0.5"/>
<ellipse cx="482.26" cy="684.9" rx="1.3" ry="1" fill="#555" stroke="#444" stroke-width="0.5"/>
<ellipse cx="487.96" cy="681.62" rx="1.3" ry="1" fill="#555" stroke="#444" stroke-width="0.5"/>
<ellipse cx="493.66" cy="678.34" rx="1.3" ry="1" fill="#555" stroke="#444" stroke-width="0.5"/>
<ellipse cx="499.36" cy="675.06" rx="1.3" ry="1" fill="#555" stroke="#444" stroke-width="0.5"/>
<ellipse cx="505.06" cy="671.78" rx="1.3" ry="1" fill="#555" stroke="#444" stroke-width="0.5"/>
<ellipse cx="510.76" cy="668.5" rx="1.3" ry="1" fill="#555" stroke="#444" stroke-width="0.5"/>
<ellipse cx="516.46" cy="665.22" rx="1.3" ry="1" fill="#555" stroke="#444" stroke-width="0.5"/>
<ellipse cx="522.16" cy="661.94" rx="1.3" ry="1" fill="#555" stroke="#444" stroke-width="0.5"/>
<ellipse cx="527.86" cy="658.66" rx="1.3" ry="1" fill="#555" stroke="#444" stroke-width="0.5"/>
<ellipse cx="533.56" cy="655.38" rx="1.3" ry="1" fill="#555" stroke="#444" stroke-width="0.5"/>
<ellipse cx="539.26" cy="652.1" rx="1.3" ry="1" fill="#555" stroke="#444" stroke-width="0.5"/>
<ellipse cx="544.96" cy="648.82" rx="1.3" ry="1" fill="#555" stroke="#444" stroke-width="0.5"/>
<ellipse cx="550.66" cy="645.54" rx="1.3" ry="1" fill="#555" stroke="#444" stroke-width="0.5"/>
<ellipse cx="556.36" cy="642.26" rx="1.3" ry="1" fill="#555" stroke="#444" stroke-width="0.5"/>
<ellipse cx="562.06" cy="638.98" rx="1.3" ry="1" fill="#555" stroke="#444" stroke-width="0.5"/>
<ellipse cx="567.76" cy="635.7" rx="1.3" ry="1" fill="#555" stroke="#444" stroke-width="0.5"/>
<ellipse cx="573.46" cy="632.42" rx="1.3" ry="1" fill="#555" stroke="#444" stroke-width="0.5"/>
<ellipse cx="579.16" cy="629.14" rx="1.3" ry="1" fill="#555" stroke="#444" stroke-width="0.5"/>
<ellipse cx="584.86" cy="625.86" rx="1.3" ry="1" fill="#555" stroke="#444" stroke-width="0.5"/>
<ellipse cx="590.56" cy="622.58" rx="1.3" ry="1" fill="#555" stroke="#444" stroke-width="0.5"/>
<ellipse cx="482.26" cy="691.46" rx="1.3" ry="1" fill="#555" stroke="#444" stroke-width="0.5"/>
<ellipse cx="487.96" cy="688.18" rx="1.3" ry="1" fill="#555" stroke="#444" stroke-width="0.5"/>
<ellipse cx="493.66" cy="684.9" rx="1.3" ry="1" fill="#555" stroke="#444" stroke-width="0.5"/>
<ellipse cx="499.36" cy="681.62" rx="1.3" ry="1" fill="#555" stroke="#444" stroke-width="0.5"/>
<ellipse cx="505.06" cy="678.34" rx="1.3" ry="1" fill="#555" stroke="#444" stroke-width="0.5"/>
<ellipse cx="510.76" cy="675.06" rx="1.3" ry="1" fill="#555" stroke="#444" stroke-width="0.5"/>
<ellipse cx="516.46" cy="671.78" rx="1.3" ry="1" fill="#555" stroke="#444" stroke-width="0.5"/>
<ellipse cx="522.16" cy="668.5" rx="1.3" ry="1" fill="#555" stroke="#444" stroke-width="0.5"/>
<ellipse cx="527.86" cy="665.22" rx="1.3" ry="1" fill="#555" stroke="#444" stroke-width="0.5"/>
<ellipse cx="533.56" cy="661.94" rx="1.3" ry="1" fill="#555" stroke="#444" stroke-width="0.5"/>
<ellipse cx="539.26" cy="658.66" rx="1.3" ry="1" fill="#555" stroke="#444" stroke-width="0.5"/>
<ellipse cx="544.96" cy="655.38" rx="1.3" ry="1" fill="#555" stroke="#444" stroke-width="0.5"/>
<ellipse cx="550.66" cy="652.1" rx="1.3" ry="1" fill="#555" stroke="#444" stroke-width="0.5"/>
<ellipse cx="556.36" cy="648.82" rx="1.3" ry="1" fill="#555" stroke="#444" stroke-width="0.5"/>
<ellipse cx="562.06" cy="645.54" rx="1.3" ry="1" fill="#555" stroke="#444" stroke-width="0.5"/>
<ellipse cx="567.76" cy="642.26" rx="1.3" ry="1" fill="#555" stroke="#444" stroke-width="0.5"/>
<ellipse cx="573.46" cy="638.98" rx="1.3" ry="1" fill="#555" stroke="#444" stroke-width="0.5"/>
<ellipse cx="579.16" cy="635.7" rx="1.3" ry="1" fill="#555" stroke="#444" stroke-width="0.5"/>
<ellipse cx="584.86" cy="632.42" rx="1.3" ry="1" fill="#555" stroke="#444" stroke-width="0.5"/>
<ellipse cx="590.56" cy="629.14" rx="1.3" ry="1" fill="#555" stroke="#444" stroke-width="0.5"/>
<ellipse cx="596.26" cy="625.86" rx="1.3" ry="1" fill="#555" stroke="#444" stroke-width="0.5"/>
<ellipse cx="487.96" cy="694.74" rx="1.3" ry="1" fill="#555" stroke="#444" stroke-width="0.5"/>
<ellipse cx="493.66" cy="691.46" rx="1.3" ry="1" fill="#555" stroke="#444" stroke-width="0.5"/>
<ellipse cx="499.36" cy="688.18" rx="1.3" ry="1" fill="#555" stroke="#444" stroke-width="0.5"/>
<ellipse cx="505.06" cy="684.9" rx="1.3" ry="1" fill="#555" stroke="#444" stroke-width="0.5"/>
<ellipse cx="510.76" cy="681.62" rx="1.3" ry="1" fill="#555" stroke="#444" stroke-width="0.5"/>
<ellipse cx="516.46" cy="678.34" rx="1.3" ry="1" fill="#555" stroke="#444" stroke-width="0.5"/>
<ellipse cx="522.16" cy="675.06" rx="1.3" ry="1" fill="#555" stroke="#444" stroke-width="0.5"/>
<ellipse cx="527.86" cy="671.78" rx="1.3" ry="1" fill="#555" stroke="#444" stroke-width="0.5"/>
<ellipse cx="533.56" cy="668.5" rx="1.3" ry="1" fill="#555" stroke="#444" stroke-width="0.5"/>
<ellipse cx="539.26" cy="665.22" rx="1.3" ry="1" fill="#555" stroke="#444" stroke-width="0.5"/>
<ellipse cx="544.96" cy="661.94" rx="1.3" ry="1" fill="#555" stroke="#444" stroke-width="0.5"/>
<ellipse cx="550.66" cy="658.66" rx="1.3" ry="1" fill="#555" stroke="#444" stroke-width="0.5"/>
<ellipse cx="556.36" cy="655.38" rx="1.3" ry="1" fill="#555" stroke="#444" stroke-width="0.5"/>
<ellipse cx="562.06" cy="652.1" rx="1.3" ry="1" fill="#555" stroke="#444" stroke-width="0.5"/>
<ellipse cx="567.76" cy="648.82" rx="1.3" ry="1" fill="#555" stroke="#444" stroke-width="0.5"/>
<ellipse cx="573.46" cy="645.54" rx="1.3" ry="1" fill="#555" stroke="#444" stroke-width="0.5"/>
<ellipse cx="579.16" cy="642.26" rx="1.3" ry="1" fill="#555" stroke="#444" stroke-width="0.5"/>
<ellipse cx="584.86" cy="638.98" rx="1.3" ry="1" fill="#555" stroke="#444" stroke-width="0.5"/>
<ellipse cx="590.56" cy="635.7" rx="1.3" ry="1" fill="#555" stroke="#444" stroke-width="0.5"/>
<ellipse cx="596.26" cy="632.42" rx="1.3" ry="1" fill="#555" stroke="#444" stroke-width="0.5"/>
<ellipse cx="601.96" cy="629.14" rx="1.3" ry="1" fill="#555" stroke="#444" stroke-width="0.5"/>
<ellipse cx="493.66" cy="698.02" rx="1.3" ry="1" fill="#555" stroke="#444" stroke-width="0.5"/>
<ellipse cx="499.36" cy="694.74" rx="1.3" ry="1" fill="#555" stroke="#444" stroke-width="0.5"/>
<ellipse cx="505.06" cy="691.46" rx="1.3" ry="1" fill="#555" stroke="#444" stroke-width="0.5"/>
<ellipse cx="510.76" cy="688.18" rx="1.3" ry="1" fill="#555" stroke="#444" stroke-width="0.5"/>
<ellipse cx="516.46" cy="684.9" rx="1.3" ry="1" fill="#555" stroke="#444" stroke-width="0.5"/>
<ellipse cx="522.16" cy="681.62" rx="1.3" ry="1" fill="#555" stroke="#444" stroke-width="0.5"/>
<ellipse cx="527.86" cy="678.34" rx="1.3" ry="1" fill="#555" stroke="#444" stroke-width="0.5"/>
<ellipse cx="533.56" cy="675.06" rx="1.3" ry="1" fill="#555" stroke="#444" stroke-width="0.5"/>
<ellipse cx="539.26" cy="671.78" rx="1.3" ry="1" fill="#555" stroke="#444" stroke-width="0.5"/>
<ellipse cx="544.96" cy="668.5" rx="1.3" ry="1" fill="#555" stroke="#444" stroke-width="0.5"/>
<ellipse cx="556.36" cy="661.94" rx="1.3" ry="1" fill="#555" stroke="#444" stroke-width="0.5"/>
<ellipse cx="562.06" cy="658.66" rx="1.3" ry="1" fill="#555" stroke="#444" stroke-width="0.5"/>
<ellipse cx="567.76" cy="655.38" rx="1.3" ry="1" fill="#555" stroke="#444" stroke-width="0.5"/>
<ellipse cx="573.46" cy="652.1" rx="1.3" ry="1" fill="#555" stroke="#444" stroke-width="0.5"/>
<ellipse cx="579.16" cy="648.82" rx="1.3" ry="1" fill="#555" stroke="#444" stroke-width="0.5"/>
<ellipse cx="584.86" cy="645.54" rx="1.3" ry="1" fill="#555" stroke="#444" stroke-width="0.5"/>
<ellipse cx="590.56" cy="642.26" rx="1.3" ry="1" fill="#555" stroke="#444" stroke-width="0.5"/>
<ellipse cx="596.26" cy="638.98" rx="1.3" ry="1" fill="#555" stroke="#444" stroke-width="0.5"/>
<ellipse cx="601.96" cy="635.7" rx="1.3" ry="1" fill="#555" stroke="#444" stroke-width="0.5"/>
<ellipse cx="607.66" cy="632.42" rx="1.3" ry="1" fill="#555" stroke="#444" stroke-width="0.5"/>
<ellipse cx="499.36" cy="701.3" rx="1.3" ry="1" fill="#555" stroke="#444" stroke-width="0.5"/>
<ellipse cx="505.06" cy="698.02" rx="1.3" ry="1" fill="#555" stroke="#444" stroke-width="0.5"/>
<ellipse cx="510.76" cy="694.74" rx="1.3" ry="1" fill="#555" stroke="#444" stroke-width="0.5"/>
<ellipse cx="516.46" cy="691.46" rx="1.3" ry="1" fill="#555" stroke="#444" stroke-width="0.5"/>
<ellipse cx="522.16" cy="688.18" rx="1.3" ry="1" fill="#555" stroke="#444" stroke-width="0.5"/>
<ellipse cx="527.86" cy="684.9" rx="1.3" ry="1" fill="#555" stroke="#444" stroke-width="0.5"/>
<ellipse cx="533.56" cy="681.62" rx="1.3" ry="1" fill="#555" stroke="#444" stroke-width="0.5"/>
<ellipse cx="539.26" cy="678.34" rx="1.3" ry="1" fill="#555" stroke="#444" stroke-width="0.5"/>
<ellipse cx="544.96" cy="675.06" rx="1.3" ry="1" fill="#555" stroke="#444" stroke-width="0.5"/>
<ellipse cx="550.66" cy="671.78" rx="1.3" ry="1" fill="#555" stroke="#444" stroke-width="0.5"/>
<ellipse cx="556.36" cy="668.5" rx="1.3" ry="1" fill="#555" stroke="#444" stroke-width="0.5"/>
<ellipse cx="562.06" cy="665.22" rx="1.3" ry="1" fill="#555" stroke="#444" stroke-width="0.5"/>
<ellipse cx="567.76" cy="661.94" rx="1.3" ry="1" fill="#555" stroke="#444" stroke-width="0.5"/>
<ellipse cx="573.46" cy="658.66" rx="1.3" ry="1" fill="#555" stroke="#444" stroke-width="0.5"/>
<ellipse cx="579.16" cy="655.38" rx="1.3" ry="1" fill="#555" stroke="#444" stroke-width="0.5"/>
<ellipse cx="584.86" cy="652.1" rx="1.3" ry="1" fill="#555" stroke="#444" stroke-width="0.5"/>
<ellipse cx="590.56" cy="648.82" rx="1.3" ry="1" fill="#555" stroke="#444" stroke-width="0.5"/>
<ellipse cx="596.26" cy="645.54" rx="1.3" ry="1" fill="#555" stroke="#444" stroke-width="0.5"/>
<ellipse cx="601.96" cy="642.26" rx="1.3" ry="1" fill="#555" stroke="#444" stroke-width="0.5"/>
<ellipse cx="607.66" cy="638.98" rx="1.3" ry="1" fill="#555" stroke="#444" stroke-width="0.5"/>
<ellipse cx="613.36" cy="635.7" rx="1.3" ry="1" fill="#555" stroke="#444" stroke-width="0.5"/>
<ellipse cx="505.06" cy="704.58" rx="1.3" ry="1" fill="#555" stroke="#444" stroke-width="0.5"/>
<ellipse cx="510.76" cy="701.3" rx="1.3" ry="1" fill="#555" stroke="#444" stroke-width="0.5"/>
<ellipse cx="516.46" cy="698.02" rx="1.3" ry="1" fill="#555" stroke="#444" stroke-width="0.5"/>
<ellipse cx="522.16" cy="694.74" rx="1.3" ry="1" fill="#555" stroke="#444" stroke-width="0.5"/>
<ellipse cx="527.86" cy="691.46" rx="1.3" ry="1" fill="#555" stroke="#444" stroke-width="0.5"/>
<ellipse cx="533.56" cy="688.18" rx="1.3" ry="1" fill="#555" stroke="#444" stroke-width="0.5"/>
<ellipse cx="539.26" cy="684.9" rx="1.3" ry="1" fill="#555" stroke="#444" stroke-width="0.5"/>
<ellipse cx="544.96" cy="681.62" rx="1.3" ry="1" fill="#555" stroke="#444" stroke-width="0.5"/>
<ellipse cx="550.66" cy="678.34" rx="1.3" ry="1" fill="#555" stroke="#444" stroke-width="0.5"/>
<ellipse cx="556.36" cy="675.06" rx="1.3" ry="1" fill="#555" stroke="#444" stroke-width="0.5"/>
<ellipse cx="562.06" cy="671.78" rx="1.3" ry="1" fill="#555" stroke="#444" stroke-width="0.5"/>
<ellipse cx="567.76" cy="668.5" rx="1.3" ry="1" fill="#555" stroke="#444" stroke-width="0.5"/>
<ellipse cx="573.46" cy="665.22" rx="1.3" ry="1" fill="#555" stroke="#444" stroke-width="0.5"/>
<ellipse cx="579.16" cy="661.94" rx="1.3" ry="1" fill="#555" stroke="#444" stroke-width="0.5"/>
<ellipse cx="584.86" cy="658.66" rx="1.3" ry="1" fill="#555" stroke="#444" stroke-width="0.5"/>
<ellipse cx="590.56" cy="655.38" rx="1.3" ry="1" fill="#555" stroke="#444" stroke-width="0.5"/>
<ellipse cx="596.26" cy="652.1" rx="1.3" ry="1" fill="#555" stroke="#444" stroke-width="0.5"/>
<ellipse cx="601.96" cy="648.82" rx="1.3" ry="1" fill="#555" stroke="#444" stroke-width="0.5"/>
<ellipse cx="607.66" cy="645.54" rx="1.3" ry="1" fill="#555" stroke="#444" stroke-width="0.5"/>
<ellipse cx="613.36" cy="642.26" rx="1.3" ry="1" fill="#555" stroke="#444" stroke-width="0.5"/>
<ellipse cx="619.06" cy="638.98" rx="1.3" ry="1" fill="#555" stroke="#444" stroke-width="0.5"/>
<ellipse cx="510.76" cy="707.86" rx="1.3" ry="1" fill="#555" stroke="#444" stroke-width="0.5"/>
<ellipse cx="516.46" cy="704.58" rx="1.3" ry="1" fill="#555" stroke="#444" stroke-width="0.5"/>
<ellipse cx="522.16" cy="701.3" rx="1.3" ry="1" fill="#555" stroke="#444" stroke-width="0.5"/>
<ellipse cx="527.86" cy="698.02" rx="1.3" ry="1" fill="#555" stroke="#444" stroke-width="0.5"/>
<ellipse cx="533.56" cy="694.74" rx="1.3" ry="1" fill="#555" stroke="#444" stroke-width="0.5"/>
<ellipse cx="539.26" cy="691.46" rx="1.3" ry="1" fill="#555" stroke="#444" stroke-width="0.5"/>
<ellipse cx="544.96" cy="688.18" rx="1.3" ry="1" fill="#555" stroke="#444" stroke-width="0.5"/>
<ellipse cx="550.66" cy="684.9" rx="1.3" ry="1" fill="#555" stroke="#444" stroke-width="0.5"/>
<ellipse cx="556.36" cy="681.62" rx="1.3" ry="1" fill="#555" stroke="#444" stroke-width="0.5"/>
<ellipse cx="562.06" cy="678.34" rx="1.3" ry="1" fill="#555" stroke="#444" stroke-width="0.5"/>
<ellipse cx="567.76" cy="675.06" rx="1.3" ry="1" fill="#555" stroke="#444" stroke-width="0.5"/>
<ellipse cx="573.46" cy="671.78" rx="1.3" ry="1" fill="#555" stroke="#444" stroke-width="0.5"/>
<ellipse cx="579.16" cy="668.5" rx="1.3" ry="1" fill="#555" stroke="#444" stroke-width="0.5"/>
<ellipse cx="584.86" cy="665.22" rx="1.3" ry="1" fill="#555" stroke="#444" stroke-width="0.5"/>
<ellipse cx="590.56" cy="661.94" rx="1.3" ry="1" fill="#555" stroke="#444" stroke-width="0.5"/>
<ellipse cx="596.26" cy="658.66" rx="1.3" ry="1" fill="#555" stroke="#444" stroke-width="0.5"/>
<ellipse cx="601.96" cy="655.38" rx="1.3" ry="1" fill="#555" stroke="#444" stroke-width="0.5"/>
<ellipse cx="607.66" cy="652.1" rx="1.3" ry="1" fill="#555" stroke="#444" stroke-width="0.5"/>
<ellipse cx="613.36" cy="648.82" rx="1.3" ry="1" fill="#555" stroke="#444" stroke-width="0.5"/>
<ellipse cx="619.06" cy="645.54" rx="1.3" ry="1" fill="#555" stroke="#444" stroke-width="0.5"/>
<ellipse cx="624.76" cy="642.26" rx="1.3" ry="1" fill="#555" stroke="#444" stroke-width="0.5"/>
<ellipse cx="516.46" cy="711.14" rx="1.3" ry="1" fill="#555" stroke="#444" stroke-width="0.5"/>
<ellipse cx="522.16" cy="707.86" rx="1.3" ry="1" fill="#555" stroke="#444" stroke-width="0.5"/>
<ellipse cx="527.86" cy="704.58" rx="1.3" ry="1" fill="#555" stroke="#444" stroke-width="0.5"/>
<ellipse cx="533.56" cy="701.3" rx="1.3" ry="1" fill="#555" stroke="#444" stroke-width="0.5"/>
<ellipse cx="539.26" cy="698.02" rx="1.3" ry="1" fill="#555" stroke="#444" stroke-width="0.5"/>
<ellipse cx="544.96" cy="694.74" rx="1.3" ry="1" fill="#555" stroke="#444" stroke-width="0.5"/>
<ellipse cx="550.66" cy="691.46" rx="1.3" ry="1" fill="#555" stroke="#444" stroke-width="0.5"/>
<ellipse cx="556.36" cy="688.18" rx="1.3" ry="1" fill="#555" stroke="#444" stroke-width="0.5"/>
<ellipse cx="562.06" cy="684.9" rx="1.3" ry="1" fill="#555" stroke="#444" stroke-width="0.5"/>
<ellipse cx="567.76" cy="681.62" rx="1.3" ry="1" fill="#555" stroke="#444" stroke-width="0.5"/>
<ellipse cx="573.46" cy="678.34" rx="1.3" ry="1" fill="#555" stroke="#444" stroke-width="0.5"/>
<ellipse cx="579.16" cy="675.06" rx="1.3" ry="1" fill="#555" stroke="#444" stroke-width="0.5"/>
<ellipse cx="584.86" cy="671.78" rx="1.3" ry="1" fill="#555" stroke="#444" stroke-width="0.5"/>
<ellipse cx="590.56" cy="668.5" rx="1.3" ry="1" fill="#555" stroke="#444" stroke-width="0.5"/>
<ellipse cx="596.26" cy="665.22" rx="1.3" ry="1" fill="#555" stroke="#444" stroke-width="0.5"/>
<ellipse cx="601.96" cy="661.94" rx="1.3" ry="1" fill="#555" stroke="#444" stroke-width="0.5"/>
<ellipse cx="607.66" cy="658.66" rx="1.3" ry="1" fill="#555" stroke="#444" stroke-width="0.5"/>
<ellipse cx="613.36" cy="655.38" rx="1.3" ry="1" fill="#555" stroke="#444" stroke-width="0.5"/>
<ellipse cx="619.06" cy="652.1" rx="1.3" ry="1" fill="#555" stroke="#444" stroke-width="0.5"/>
<ellipse cx="624.76" cy="648.82" rx="1.3" ry="1" fill="#555" stroke="#444" stroke-width="0.5"/>
<ellipse cx="630.46" cy="645.54" rx="1.3" ry="1" fill="#555" stroke="#444" stroke-width="0.5"/>
<ellipse cx="522.16" cy="714.42" rx="1.3" ry="1" fill="#555" stroke="#444" stroke-width="0.5"/>
<ellipse cx="527.86" cy="711.14" rx="1.3" ry="1" fill="#555" stroke="#444" stroke-width="0.5"/>
<ellipse cx="533.56" cy="707.86" rx="1.3" ry="1" fill="#555" stroke="#444" stroke-width="0.5"/>
<ellipse cx="539.26" cy="704.58" rx="1.3" ry="1" fill="#555" stroke="#444" stroke-width="0.5"/>
<ellipse cx="544.96" cy="701.3" rx="1.3" ry="1" fill="#555" stroke="#444" stroke-width="0.5"/>
<ellipse cx="550.66" cy="698.02" rx="1.3" ry="1" fill="#555" stroke="#444" stroke-width="0.5"/>
<ellipse cx="556.36" cy="694.74" rx="1.3" ry="1" fill="#555" stroke="#444" stroke-width="0.5"/>
<ellipse cx="562.06" cy="691.46" rx="1.3" ry="1" fill="#555" stroke="#444" stroke-width="0.5"/>
<ellipse cx="567.76" cy="688.18" rx="1.3" ry="1" fill="#555" stroke="#444" stroke-width="0.5"/>
<ellipse cx="573.46" cy="684.9" rx="1.3" ry="1" fill="#555" stroke="#444" stroke-width="0.5"/>
<ellipse cx="579.16" cy="681.62" rx="1.3" ry="1" fill="#555" stroke="#444" stroke-width="0.5"/>
<ellipse cx="584.86" cy="678.34" rx="1.3" ry="1" fill="#555" stroke="#444" stroke-width="0.5"/>
<ellipse cx="590.56" cy="675.06" rx="1.3" ry="1" fill="#555" stroke="#444" stroke-width="0.5"/>
<ellipse cx="596.26" cy="671.78" rx="1.3" ry="1" fill="#555" stroke="#444" stroke-width="0.5"/>
<ellipse cx="601.96" cy="668.5" rx="1.3" ry="1" fill="#555" stroke="#444" stroke-width="0.5"/>
<ellipse cx="607.66" cy="665.22" rx="1.3" ry="1" fill="#555" stroke="#444" stroke-width="0.5"/>
<ellipse cx="613.36" cy="661.94" rx="1.3" ry="1" fill="#555" stroke="#444" stroke-width="0.5"/>
<ellipse cx="619.06" cy="658.66" rx="1.3" ry="1" fill="#555" stroke="#444" stroke-width="0.5"/>
<ellipse cx="624.76" cy="655.38" rx="1.3" ry="1" fill="#555" stroke="#444" stroke-width="0.5"/>
<ellipse cx="630.46" cy="652.1" rx="1.3" ry="1" fill="#555" stroke="#444" stroke-width="0.5"/>
<ellipse cx="636.16" cy="648.82" rx="1.3" ry="1" fill="#555" stroke="#444" stroke-width="0.5"/>
<ellipse cx="551.2" cy="665" rx="6.4" ry="3.8" fill="#fff" stroke="#222" stroke-width="1.2"/>
<ellipse cx="568.1" cy="625.3" rx="6.5" ry="3.3" fill="#fff" stroke="#222" stroke-width="1.3"/>
<rect x="566.4" y="619.8" width="3.4" height="6.5" fill="#fff" stroke="#222" stroke-width="1.1"/>
<line x1="566.4" y1="623.3" x2="569.8" y2="623.3" stroke="#222" stroke-width="0.9" stroke-linecap="butt"/>
<ellipse cx="568.1" cy="619.8" rx="1.7" ry="0.9" fill="#222" stroke="#222" stroke-width="1.1"/>
<ellipse cx="618.75" cy="655.5" rx="6.5" ry="3.3" fill="#fff" stroke="#222" stroke-width="1.3"/>
<rect x="617.05" y="650" width="3.4" height="6.5" fill="#fff" stroke="#222" stroke-width="1.1"/>
<line x1="617.05" y1="653.5" x2="620.45" y2="653.5" stroke="#222" stroke-width="0.9" stroke-linecap="butt"/>
<ellipse cx="618.75" cy="650" rx="1.7" ry="0.9" fill="#222" stroke="#222" stroke-width="1.1"/>
<ellipse cx="482.3" cy="675.3" rx="6.5" ry="3.3" fill="#fff" stroke="#222" stroke-width="1.3"/>
<rect x="480.6" y="669.8" width="3.4" height="6.5" fill="#fff" stroke="#222" stroke-width="1.1"/>
<line x1="480.6" y1="673.3" x2="484" y2="673.3" stroke="#222" stroke-width="0.9" stroke-linecap="butt"/>
<ellipse cx="482.3" cy="669.8" rx="1.7" ry="0.9" fill="#222" stroke="#222" stroke-width="1.1"/>
<ellipse cx="533.5" cy="704.5" rx="6.5" ry="3.3" fill="#fff" stroke="#222" stroke-width="1.3"/>
<rect x="531.8" y="699" width="3.4" height="6.5" fill="#fff" stroke="#222" stroke-width="1.1"/>
<line x1="531.8" y1="702.5" x2="535.2" y2="702.5" stroke="#222" stroke-width="0.9" stroke-linecap="butt"/>
<ellipse cx="533.5" cy="699" rx="1.7" ry="0.9" fill="#222" stroke="#222" stroke-width="1.1"/>
<ellipse cx="551" cy="734.8" rx="5.3" ry="2.7" fill="none" stroke="#222" stroke-width="1.2"/>
<path d="M545.8,743 L545.8,749.5 Q551.3,753.8 557,749.5 L557,743 Q551.3,738.6 545.8,743 Z" fill="#1a1a1a"/>
<path d="M552.5,740.3 L556.8,741.8 L556.8,744.8 L552.5,744.5 Z" fill="#fff" stroke="#1a1a1a" stroke-width="0.8"/>
<ellipse cx="551.25" cy="746.8" rx="3.1" ry="1.8" fill="#fff"/>
<ellipse cx="551.25" cy="747.3" rx="1.9" ry="0.9" fill="#1a1a1a"/>
<path d="M546.5,750.3 Q551.3,753.2 556.3,750.3" fill="none" stroke="#999" stroke-width="0.7"/>
<ellipse cx="551.3" cy="758.2" rx="3.9" ry="1.7" fill="none" stroke="#222" stroke-width="1.2"/>
<ellipse cx="551.1" cy="771.3" rx="7" ry="3.1" fill="#fff" stroke="#222" stroke-width="1.6"/>
<path d="M545,770 Q545.5,766.8 548,765.6 L554,765.6 Q556.6,766.8 557.2,770" fill="#fff" stroke="#1a1a1a" stroke-width="1.3"/>
<ellipse cx="551.1" cy="770.4" rx="5.6" ry="2.1" fill="none" stroke="#222" stroke-width="1.1"/>
<ellipse cx="551" cy="765.6" rx="3.1" ry="1.5" fill="#333" stroke="#222" stroke-width="1.6"/>
<ellipse cx="550.6" cy="765.2" rx="1.2" ry="0.6" fill="#ddd"/>
<path d="M545.8,776.5 Q550.5,774.2 555.5,776 L555.5,781 L545.8,781 Z" fill="#fff" stroke="#1a1a1a" stroke-width="1.1"/>
<rect x="555" y="777.8" width="1.8" height="2.6" fill="#1a1a1a"/>
<line x1="548.3" y1="776" x2="548.3" y2="781" stroke="#222" stroke-width="0.8" stroke-linecap="butt"/>
<path d="M544.6,781.2 L557.4,781.2 L557.4,789.5 L544.6,789.5 Z" fill="#fff" stroke="#1a1a1a" stroke-width="1.1"/>
<line x1="548.4" y1="781.2" x2="548.4" y2="789.5" stroke="#222" stroke-width="0.9" stroke-linecap="butt"/>
<line x1="555.2" y1="781.2" x2="555.2" y2="789.5" stroke="#222" stroke-width="0.9" stroke-linecap="butt"/>
<rect x="544.9" y="781.5" width="3.2" height="7.7" fill="#888"/>
<path d="M546.2,789.5 L546.2,795.5 Q551,798 555.8,795.5 L555.8,789.5" fill="#fff" stroke="#1a1a1a" stroke-width="1.1"/>
<line x1="548.6" y1="790" x2="548.6" y2="796.5" stroke="#222" stroke-width="0.8" stroke-linecap="butt"/>
<line x1="553.4" y1="790" x2="553.4" y2="796.5" stroke="#222" stroke-width="0.8" stroke-linecap="butt"/>
</svg></body></html>
